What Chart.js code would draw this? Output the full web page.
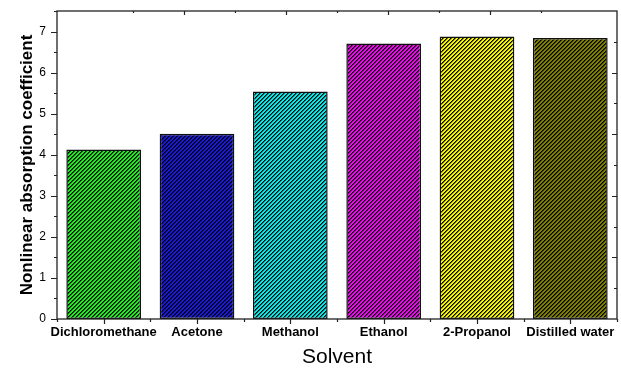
<!DOCTYPE html>
<html>
<head>
<meta charset="utf-8">
<script src="https://cdn.jsdelivr.net/npm/chart.js@4"></script>
<style>
  html, body { margin: 0; padding: 0; background: #fff; }
  #wrap { width: 621px; height: 369px; }
</style>
</head>
<body>
<div id="wrap"><canvas id="c" width="621" height="369"></canvas></div>
<script>
// Nonlinear absorption coefficient measured in each solvent
const solvents = ['Dichloromethane', 'Acetone', 'Methanol', 'Ethanol', '2-Propanol', 'Distilled water'];
const coefficients = [4.13, 4.51, 5.54, 6.71, 6.88, 6.84];
const barColors = ['#22ec22', '#1a1ad8', '#08eaea', '#ec08ec', '#f6f600', '#808000'];
const yTicks = [0, 1, 2, 3, 4, 5, 6, 7];

const FONT = '"Liberation Sans", Arial, sans-serif';
const canvas = document.getElementById('c');
const ctx = canvas.getContext('2d');

// Fine diagonal "/" hatch: dark stripes over the fill colour, 4x4 pixel tile
function hatch(color) {
  const n = 4;
  const t = document.createElement('canvas');
  t.width = n; t.height = n;
  const g = t.getContext('2d');
  g.fillStyle = color;
  g.fillRect(0, 0, n, n);
  for (let y = 0; y < n; y++) {
    for (let x = 0; x < n; x++) {
      const k = (x + y) % n;
      if (k === 0) { g.fillStyle = '#000'; g.fillRect(x, y, 1, 1); }
      else if (k === 1) { g.fillStyle = 'rgba(0,0,0,0.55)'; g.fillRect(x, y, 1, 1); }
    }
  }
  return ctx.createPattern(t, 'repeat');
}

// Axis boxes take fixed sizes so the plot frame sits where it should
function fixBox(w, h) {
  return function (s) {
    if (w !== null) s.width = w;
    if (h !== null) s.height = h;
    s.paddingTop = 0; s.paddingBottom = 0;
    s.paddingLeft = 0; s.paddingRight = 0;
  };
}

// Frame, tick marks and axis titles
const framePlugin = {
  id: 'frame',
  afterDraw(chart) {
    const c = chart.ctx;
    const a = chart.chartArea;
    const xs = chart.scales.x, ys = chart.scales.y;
    const xt = chart.scales.x2, yr = chart.scales.y2;
    c.save();
    c.strokeStyle = '#222';
    c.lineWidth = 1.3;
    c.strokeRect(a.left, a.top, a.right - a.left, a.bottom - a.top);

    c.lineWidth = 1.2;
    c.beginPath();
    // left axis: outward ticks every 0.5
    for (let v = 0; v <= ys.max + 1e-9; v += 0.5) {
      const y = Math.round(ys.getPixelForValue(v)) + 0.5;
      const len = Number.isInteger(v) ? 6 : 3;
      c.moveTo(a.left - len, y); c.lineTo(a.left, y);
    }
    // bottom axis: major ticks at categories, minor at boundaries
    for (let i = 0; i < solvents.length; i++) {
      const x = Math.round(xs.getPixelForValue(i)) + 0.5;
      c.moveTo(x, a.bottom); c.lineTo(x, a.bottom + 5);
    }
    for (let i = 0; i <= solvents.length; i++) {
      const x = Math.round(xs.getPixelForValue(i - 0.5)) + 0.5;
      c.moveTo(x, a.bottom); c.lineTo(x, a.bottom + 3);
    }
    // top axis: inward ticks
    for (let i = 1; i < 10; i++) {
      const x = Math.round(xt.getPixelForValue(i)) + 0.5;
      const len = i % 2 === 0 ? 4 : 2;
      c.moveTo(x, a.top); c.lineTo(x, a.top + len);
    }
    // right axis: inward ticks
    for (let i = 1; i < 10; i++) {
      const y = Math.round(yr.getPixelForValue(i)) + 0.5;
      const len = i % 2 === 0 ? 5 : 3;
      c.moveTo(a.right, y); c.lineTo(a.right - len, y);
    }
    c.stroke();

    // axis titles
    c.fillStyle = '#000';
    c.textAlign = 'center';
    c.textBaseline = 'middle';
    c.font = 'bold 17px ' + FONT;
    c.translate(27, (a.top + a.bottom) / 2);
    c.rotate(-Math.PI / 2);
    c.fillText('Nonlinear absorption coefficient', 0, 0);
    c.setTransform(1, 0, 0, 1, 0, 0);
    c.font = '21px ' + FONT;
    c.fillText('Solvent', (a.left + a.right) / 2, 357);
    c.restore();
  }
};

new Chart(ctx, {
  type: 'bar',
  data: {
    labels: solvents,
    datasets: [{
      data: coefficients,
      backgroundColor: barColors.map(hatch),
      borderColor: '#111',
      borderWidth: 1.5,
      borderSkipped: false,
      barPercentage: 0.8,
      categoryPercentage: 1.0
    }]
  },
  options: {
    responsive: false,
    animation: false,
    events: [],
    layout: { padding: 0 },
    plugins: { legend: { display: false }, tooltip: { enabled: false } },
    scales: {
      x: {
        type: 'category',
        position: 'bottom',
        offset: true,
        grid: { display: false, drawTicks: false },
        border: { display: false },
        ticks: {
          autoSkip: false, maxRotation: 0, padding: 6,
          color: '#000', font: { family: FONT, size: 13, weight: 'bold' }
        },
        afterFit: fixBox(null, 50)
      },
      y: {
        type: 'linear',
        position: 'left',
        min: 0, max: 7.5,
        afterBuildTicks(s) { s.ticks = yTicks.map(v => ({ value: v })); },
        grid: { display: false, drawTicks: false },
        border: { display: false },
        ticks: { padding: 11, color: '#000', font: { family: FONT, size: 12 } },
        afterFit: fixBox(57, null)
      },
      x2: {
        type: 'linear',
        position: 'top',
        min: 0, max: 10,
        grid: { display: false, drawTicks: false },
        border: { display: false },
        ticks: { display: false },
        afterFit: fixBox(null, 11)
      },
      y2: {
        type: 'linear',
        position: 'right',
        min: 0, max: 10,
        grid: { display: false, drawTicks: false },
        border: { display: false },
        ticks: { display: false },
        afterFit: fixBox(4, null)
      }
    }
  },
  plugins: [framePlugin]
});
</script>
</body>
</html>
